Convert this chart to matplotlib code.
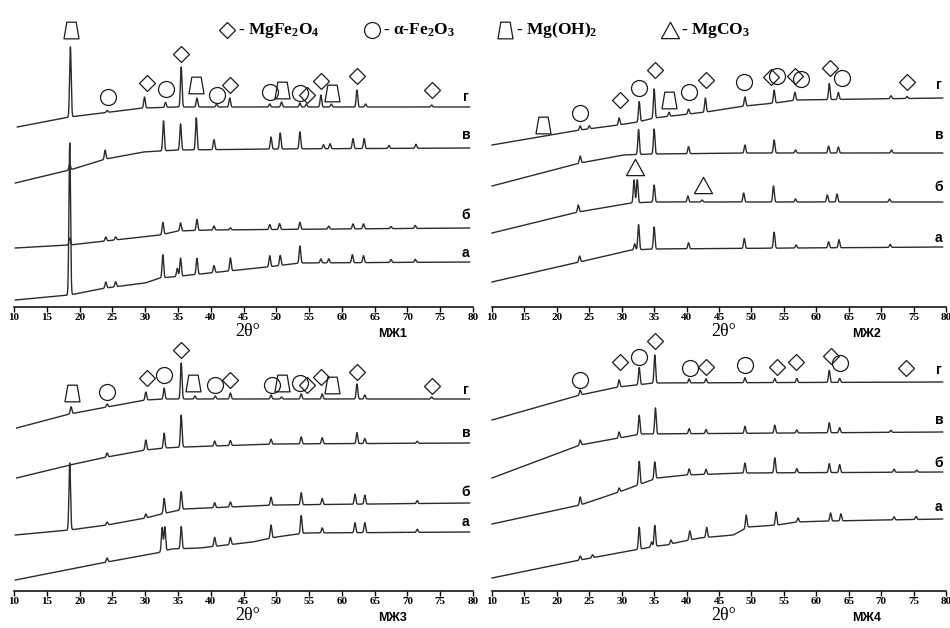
import numpy as np
import matplotlib
matplotlib.use("Agg")
import matplotlib.pyplot as plt
from matplotlib.path import Path

plt.rcParams["mathtext.fontset"] = "custom"
plt.rcParams["mathtext.rm"] = "Liberation Serif:bold"
plt.rcParams["mathtext.bf"] = "Liberation Serif:bold"
plt.rcParams["mathtext.it"] = "Liberation Serif:italic:bold"

# baselines: (2theta, intensity), peaks: (2theta, height above baseline)
# --- MZh1 ---
mzh1_a_base = [(10.2, 7), (18.5, 12), (24, 19), (30, 24), (32.3, 29), (34, 30), (38.4, 33), (48.6, 40), (53.6, 44), (79.5, 45)]
mzh1_a_peaks = [(18.5, 152), (24.0, 6), (25.5, 5), (32.7, 23), (34.9, 8), (35.4, 18), (37.9, 16), (40.5, 7), (43.0, 13),
                (49.0, 11), (50.6, 10), (53.6, 17), (56.8, 4), (58.0, 4), (61.6, 8), (63.3, 7), (67.5, 3), (71.2, 3)]
mzh1_b_base = [(10.2, 59), (18.5, 62), (24, 66), (32.3, 72), (35, 76), (40, 77), (79.5, 79)]
mzh1_b_peaks = [(18.5, 7), (24.0, 4), (25.5, 3), (32.7, 12), (35.4, 8), (37.9, 11), (40.5, 4), (43.0, 2), (49.0, 5),
                (50.5, 6), (53.6, 7), (58.0, 3), (61.7, 5), (63.3, 5), (67.5, 2), (71.2, 3)]
mzh1_v_base = [(10.2, 124), (18.5, 137), (24, 148), (29.7, 155), (35, 157), (50, 158), (79.5, 159)]
mzh1_v_peaks = [(18.5, 6), (23.9, 9), (32.8, 30), (35.4, 26), (37.8, 32), (40.5, 10), (49.2, 12), (50.6, 16), (53.6, 17),
                (57.2, 4), (58.2, 5), (61.7, 10), (63.4, 10), (67.2, 3), (71.3, 4)]
mzh1_g_base = [(10.5, 180), (18.5, 190), (29.7, 199), (35, 200), (79.5, 200)]
mzh1_g_peaks = [(18.6, 70), (24.2, 2), (29.9, 11), (33.1, 5), (35.5, 40), (37.9, 9), (40.9, 3), (42.9, 9), (49.0, 3),
                (50.8, 5), (53.6, 4), (54.6, 3), (56.8, 12), (58.4, 3), (62.3, 17), (63.6, 3), (73.7, 2)]
mzh1_spinel = [(30.3, 224), (35.5, 253), (42.9, 222), (54.7, 212), (56.8, 226), (62.3, 231), (73.7, 217)]
mzh1_hematite = [(24.3, 210), (33.2, 218), (40.9, 212), (49.0, 215), (53.6, 214)]
mzh1_brucite = [(18.7, 277), (37.8, 222), (50.9, 217), (58.5, 214)]
mzh1_carbonate = []

# --- MZh2 ---
mzh2_a_base = [(10, 25), (23.5, 45), (31.5, 57), (35, 58), (79.5, 60)]
mzh2_a_peaks = [(23.5, 6), (32.0, 6), (32.6, 25), (35.0, 22), (40.3, 6), (48.9, 10), (53.5, 16), (56.9, 3), (61.9, 6),
                (63.5, 8), (71.4, 3)]
mzh2_b_base = [(10, 74), (23.3, 95), (31.5, 104), (35, 105), (79.5, 105)]
mzh2_b_peaks = [(23.3, 7), (31.9, 23), (32.4, 23), (35.0, 17), (40.2, 6), (42.4, 2), (48.8, 9), (53.4, 16), (56.8, 3),
                (61.7, 7), (63.2, 8), (71.3, 3)]
mzh2_v_base = [(10, 121), (23.6, 144), (30.2, 152), (35, 153), (50, 154), (79.5, 154)]
mzh2_v_peaks = [(23.6, 7), (32.6, 25), (35.0, 25), (40.3, 7), (49.0, 8), (53.5, 13), (56.8, 3), (61.9, 7), (63.4, 6),
                (71.6, 3)]
mzh2_g_base = [(10, 162), (23.6, 177), (29.5, 182), (32.5, 185), (35, 189), (43, 195), (49, 201), (53.6, 204), (57, 207),
               (79.5, 209)]
mzh2_g_peaks = [(23.6, 4), (25.0, 3), (29.6, 7), (32.7, 20), (35.0, 29), (37.3, 4), (40.3, 5), (42.9, 14), (49.0, 9),
                (53.5, 13), (56.7, 8), (62.0, 16), (63.4, 7), (71.5, 3), (74.0, 2)]
mzh2_spinel = [(29.7, 207), (35.1, 237), (43.0, 227), (53.0, 230), (56.7, 231), (62.1, 239), (74.0, 225)]
mzh2_hematite = [(23.6, 194), (32.7, 219), (40.4, 215), (48.9, 225), (53.9, 231), (57.6, 228), (64.0, 229)]
mzh2_brucite = [(17.8, 182), (37.3, 207)]
mzh2_carbonate = [(32.0, 140), (42.6, 122)]

# --- MZh3 ---
mzh3_a_base = [(10.2, 11), (24.2, 29), (30.1, 36), (31.8, 38), (34, 42), (38.4, 43), (46.4, 49), (50, 54), (54.5, 58),
               (79.5, 59)]
mzh3_a_peaks = [(24.2, 4), (32.6, 24), (33.0, 24), (35.5, 22), (40.6, 9), (43.0, 7), (49.2, 13), (53.8, 18), (57.0, 5),
                (62.0, 10), (63.5, 10), (71.5, 3)]
mzh3_b_base = [(10.2, 56), (18.5, 61), (24.2, 66), (30.1, 73), (32.5, 77), (36, 82), (50, 86), (79.5, 88)]
mzh3_b_peaks = [(18.5, 67), (24.2, 3), (30.1, 4), (32.9, 15), (35.5, 18), (40.6, 5), (43.0, 5), (49.2, 8), (53.8, 12),
                (57.0, 6), (62.0, 10), (63.5, 9), (71.5, 3)]
mzh3_v_base = [(10.4, 113), (18.5, 126), (24.2, 134), (30.1, 141), (33, 143), (36, 144), (50, 147), (79.5, 148)]
mzh3_v_peaks = [(24.2, 4), (30.1, 10), (32.9, 15), (35.5, 32), (40.6, 5), (43.0, 5), (49.2, 5), (53.8, 7), (57.0, 6),
                (62.3, 11), (63.5, 5), (71.5, 2)]
mzh3_g_base = [(10.4, 163), (18.5, 177), (24.2, 184), (30.1, 191), (33, 192), (79.5, 192)]
mzh3_g_peaks = [(18.7, 7), (24.2, 3), (30.1, 8), (32.9, 11), (35.5, 36), (37.6, 3), (40.7, 3), (43.0, 6), (49.2, 4),
                (50.8, 2), (53.8, 5), (57.0, 5), (62.3, 15), (63.5, 4), (73.7, 2)]
mzh3_spinel = [(30.3, 213), (35.5, 241), (42.9, 211), (54.7, 206), (56.8, 214), (62.3, 219), (73.7, 205)]
mzh3_hematite = [(24.2, 199), (32.9, 216), (40.6, 206), (49.3, 206), (53.6, 208)]
mzh3_brucite = [(18.8, 198), (37.3, 208), (50.9, 208), (58.5, 206)]
mzh3_carbonate = []

# --- MZh4 ---
mzh4_a_base = [(10, 13), (23.6, 31), (32, 41), (35.5, 45), (37, 46), (38.2, 48), (42, 53), (47.2, 56), (49.5, 64),
               (54, 66), (57, 69), (62, 70), (79.5, 72)]
mzh4_a_peaks = [(23.6, 4), (25.5, 3), (32.7, 22), (34.6, 5), (35.1, 21), (37.6, 4), (40.5, 9), (43.1, 10), (49.2, 13),
                (53.8, 13), (57.2, 4), (62.2, 8), (63.8, 7), (72.0, 3), (75.4, 3)]
mzh4_b_base = [(10, 67), (23.6, 86), (29.6, 99), (32.5, 106), (35.5, 113), (40, 116), (49, 118), (79.5, 119)]
mzh4_b_peaks = [(23.6, 8), (29.6, 4), (32.7, 23), (35.1, 17), (40.4, 6), (43.0, 5), (49.0, 10), (53.6, 15), (57.0, 4),
                (62.0, 9), (63.6, 8), (72.0, 3), (75.5, 2)]
mzh4_v_base = [(10, 113), (23.6, 146), (29.6, 153), (33, 157), (79.5, 159)]
mzh4_v_peaks = [(23.6, 5), (29.6, 6), (32.7, 19), (35.2, 26), (40.4, 5), (43.0, 4), (49.0, 7), (53.6, 8), (57.0, 3),
                (62.0, 10), (63.6, 5), (71.5, 2)]
mzh4_g_base = [(10, 171), (23.6, 196), (29.5, 204), (35, 208), (79.5, 209)]
mzh4_g_peaks = [(23.6, 5), (29.6, 7), (32.7, 17), (35.1, 28), (40.4, 4), (43.0, 4), (49.0, 5), (53.6, 4), (57.0, 4),
                (62.0, 12), (63.6, 4)]
mzh4_spinel = [(29.7, 229), (35.1, 250), (43.0, 224), (54.0, 224), (56.8, 229), (62.3, 235), (73.8, 223)]
mzh4_hematite = [(23.6, 211), (32.7, 234), (40.5, 223), (49.0, 226), (63.7, 228)]
mzh4_brucite = []
mzh4_carbonate = []

sample_names = ["МЖ1", "МЖ2", "МЖ3", "МЖ4"]
curve_labels = ["а", "б", "в", "г"]
ticks = list(range(10, 81, 5))

# trapezoid marker for Mg(OH)2, flat triangle for MgCO3
trap = Path([(-0.45, -0.5), (0.45, -0.5), (0.28, 0.5), (-0.28, 0.5), (-0.45, -0.5)],
            [Path.MOVETO, Path.LINETO, Path.LINETO, Path.LINETO, Path.CLOSEPOLY])
tri = Path([(0, 0.45), (-0.5, -0.45), (0.5, -0.45), (0, 0.45)],
           [Path.MOVETO, Path.LINETO, Path.LINETO, Path.CLOSEPOLY])

mk_style = {
    "spinel": dict(marker="D", ms=8.0),
    "hematite": dict(marker="o", ms=11.5),
    "brucite": dict(marker=trap, ms=12),
    "carbonate": dict(marker=tri, ms=13),
}


def pattern(base, peaks, width=0.12):
    bx, by = zip(*base)
    x = np.arange(bx[0], bx[-1], 0.02)
    y = np.interp(x, bx, by)
    for c, h in peaks:
        y = y + h * np.exp(-0.5 * ((x - c) / width) ** 2)
    return x, y


W, H = 950, 628
fig = plt.figure(figsize=(9.5, 6.28), dpi=100)

panels = [
    dict(box=(14, 307, 459, 307), traces=[(mzh1_a_base, mzh1_a_peaks), (mzh1_b_base, mzh1_b_peaks),
                                          (mzh1_v_base, mzh1_v_peaks), (mzh1_g_base, mzh1_g_peaks)],
         labels_y=[54, 92, 172, 210],
         marks=dict(spinel=mzh1_spinel, hematite=mzh1_hematite, brucite=mzh1_brucite, carbonate=mzh1_carbonate)),
    dict(box=(492, 307, 454, 307), traces=[(mzh2_a_base, mzh2_a_peaks), (mzh2_b_base, mzh2_b_peaks),
                                           (mzh2_v_base, mzh2_v_peaks), (mzh2_g_base, mzh2_g_peaks)],
         labels_y=[69, 120, 172, 222],
         marks=dict(spinel=mzh2_spinel, hematite=mzh2_hematite, brucite=mzh2_brucite, carbonate=mzh2_carbonate)),
    dict(box=(14, 591, 459, 256), traces=[(mzh3_a_base, mzh3_a_peaks), (mzh3_b_base, mzh3_b_peaks),
                                          (mzh3_v_base, mzh3_v_peaks), (mzh3_g_base, mzh3_g_peaks)],
         labels_y=[69, 99, 158, 201],
         marks=dict(spinel=mzh3_spinel, hematite=mzh3_hematite, brucite=mzh3_brucite, carbonate=mzh3_carbonate)),
    dict(box=(492, 591, 454, 256), traces=[(mzh4_a_base, mzh4_a_peaks), (mzh4_b_base, mzh4_b_peaks),
                                           (mzh4_v_base, mzh4_v_peaks), (mzh4_g_base, mzh4_g_peaks)],
         labels_y=[84, 128, 171, 221],
         marks=dict(spinel=mzh4_spinel, hematite=mzh4_hematite, brucite=mzh4_brucite, carbonate=mzh4_carbonate)),
]

for i, p in enumerate(panels):
    left, bottom, width, height = p["box"]
    ax = fig.add_axes([left / W, (H - bottom) / H, width / W, height / H])
    ax.set_xlim(10, 80)
    ax.set_ylim(0, height)
    for s in ["top", "left", "right"]:
        ax.spines[s].set_visible(False)
    ax.spines["bottom"].set_linewidth(1.1)
    ax.set_yticks([])
    ax.set_xticks(ticks)
    ax.set_xticklabels([str(t) for t in ticks], fontfamily="Liberation Serif", fontweight="bold", fontsize=8)
    ax.tick_params(axis="x", direction="out", length=3.5, width=1.0, pad=1)
    ax.patch.set_alpha(0)

    for (base, peaks), lab, ly in zip(p["traces"], curve_labels, p["labels_y"]):
        x, y = pattern(base, peaks)
        ax.plot(x, y, color="#2b2b2b", lw=1.0, clip_on=False)
        ax.text(78.9, ly, lab, fontfamily="Liberation Sans", fontweight="bold", fontsize=10,
                ha="center", va="center")

    for phase, pts in p["marks"].items():
        if not pts:
            continue
        mx, my = zip(*pts)
        ax.plot(mx, my, ls="none", mfc="none", mec="#1a1a1a", mew=0.9, clip_on=False, **mk_style[phase])

    cx = left + width * 0.51
    cy = bottom + 25
    fig.text(cx / W, 1 - cy / H, "2θ°", fontfamily="Liberation Serif", fontsize=13, ha="center", va="center")
    fig.text((left + width * 0.825) / W, 1 - (cy + 2) / H, sample_names[i], fontfamily="Liberation Sans",
             fontweight="bold", fontsize=9, ha="center", va="center")

# phase legend along the top
legend_items = [
    ("spinel", 227, "- MgFe$_2$O$_4$"),
    ("hematite", 372, "- α-Fe$_2$O$_3$"),
    ("brucite", 505, "- Mg(OH)$_2$"),
    ("carbonate", 670, "- MgCO$_3$"),
]
lax = fig.add_axes([0, 0, 1, 1])
lax.set_xlim(0, W)
lax.set_ylim(H, 0)
lax.axis("off")
lax.patch.set_alpha(0)
for phase, x0, txt in legend_items:
    lax.plot([x0], [30], ls="none", mfc="none", mec="#1a1a1a", mew=0.9, **mk_style[phase])
    lax.text(x0 + 11, 30, txt, fontfamily="Liberation Serif", fontweight="bold", fontsize=12.5,
             ha="left", va="center")

fig.savefig("out.png", dpi=100)
